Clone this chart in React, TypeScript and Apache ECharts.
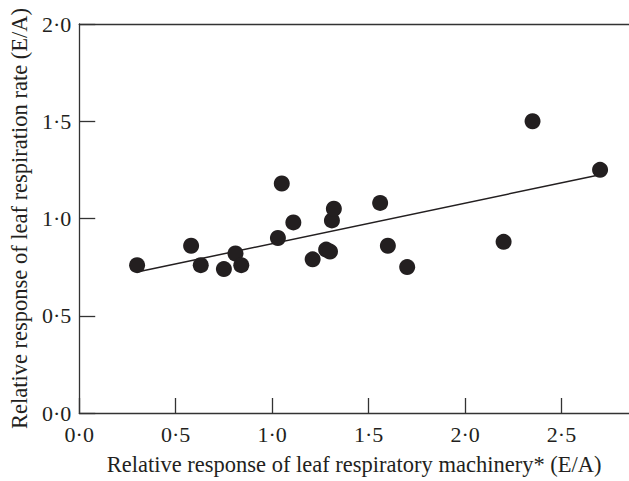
import React, { useEffect, useRef } from "react";
import * as echarts from "echarts";

const xVals = [0.30, 0.58, 0.63, 0.75, 0.81, 0.84, 1.03, 1.05, 1.11, 1.21, 1.28, 1.30, 1.31, 1.32, 1.56, 1.60, 1.70, 2.20, 2.35, 2.70];
const yVals = [0.76, 0.86, 0.76, 0.74, 0.82, 0.76, 0.90, 1.18, 0.98, 0.79, 0.84, 0.83, 0.99, 1.05, 1.08, 0.86, 0.75, 0.88, 1.50, 1.25];
const fitX = [0.30, 2.70];
const fitY = [0.725, 1.225];
const xTicks = [0, 0.5, 1.0, 1.5, 2.0, 2.5];
const yTicks = [0, 0.5, 1.0, 1.5, 2.0];
const xTitle = "Relative response of leaf respiratory machinery* (E/A)";
const yTitle = "Relative response of leaf respiration rate (E/A)";

const fmt = (v: number) => v.toFixed(1).replace(".", "·");
const FONT = "Liberation Serif";
const INK = "#231f20";

export default function App() {
  const ref = useRef<HTMLDivElement>(null);
  useEffect(() => {
    if (!ref.current) return;
    const chart = echarts.init(ref.current, undefined, { renderer: "svg" });
    const axisLine = { show: true, lineStyle: { color: "#333", width: 1.3 } };
    chart.setOption({
      animation: false,
      backgroundColor: "#fff",
      grid: { left: 78, top: 24, right: 0, bottom: 65, containLabel: false },
      xAxis: [
        {
          type: "value",
          min: 0,
          max: 2.85,
          interval: 0.5,
          position: "bottom",
          axisLine,
          splitLine: { show: false },
          axisTick: { show: true, inside: true, length: 15, customValues: xTicks, lineStyle: { color: "#333", width: 1.3 } },
          axisLabel: {
            customValues: xTicks,
            formatter: (v: number) => fmt(v),
            fontFamily: FONT,
            fontSize: 22,
            color: INK,
            margin: 10,
          },
          name: xTitle,
          nameLocation: "middle",
          nameGap: 40,
          nameTextStyle: { fontFamily: FONT, fontSize: 22.5, color: INK },
        },
        {
          type: "value",
          min: 0,
          max: 2.85,
          position: "top",
          axisLine,
          axisTick: { show: false },
          axisLabel: { show: false },
          splitLine: { show: false },
        },
      ],
      yAxis: {
        type: "value",
        min: 0,
        max: 2,
        interval: 0.5,
        axisLine,
        splitLine: { show: false },
        axisTick: { show: true, inside: true, length: 16, customValues: yTicks, lineStyle: { color: "#333", width: 1.3 } },
        axisLabel: {
          customValues: yTicks,
          formatter: (v: number) => fmt(v),
          fontFamily: FONT,
          fontSize: 22,
          color: INK,
          margin: 8,
        },
        name: yTitle,
        nameLocation: "middle",
        nameGap: 45,
        nameTextStyle: { fontFamily: FONT, fontSize: 22.5, color: INK },
      },
      series: [
        {
          type: "line",
          xAxisIndex: 0,
          data: fitX.map((x, i) => [x, fitY[i]]),
          showSymbol: false,
          symbol: "none",
          lineStyle: { color: INK, width: 1.5 },
          silent: true,
          z: 1,
        },
        {
          type: "scatter",
          xAxisIndex: 0,
          data: xVals.map((x, i) => [x, yVals[i]]),
          symbol: "circle",
          symbolSize: 16,
          itemStyle: { color: INK, opacity: 1 },
          z: 2,
        },
      ],
    });
    return () => chart.dispose();
  }, []);
  return (
    <div
      ref={ref}
      style={{ position: "fixed", left: 0, top: 0, width: 629, height: 481, background: "#fff" }}
    />
  );
}
